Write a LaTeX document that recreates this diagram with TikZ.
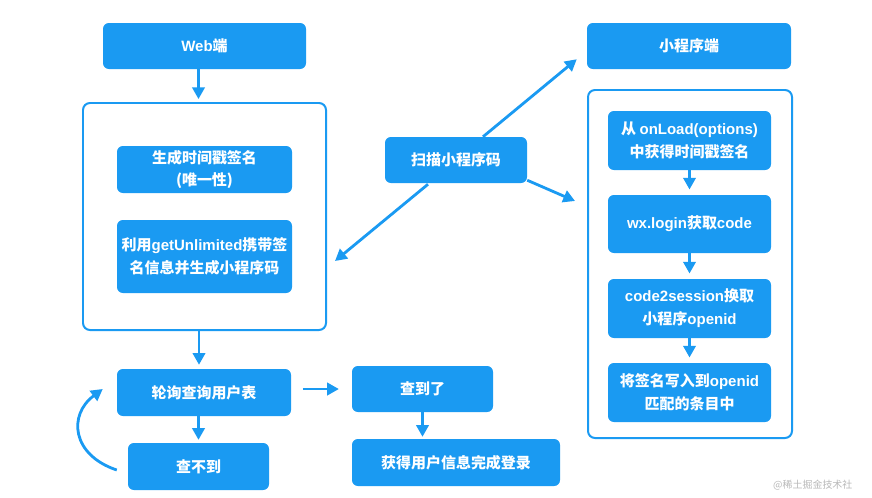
\documentclass[tikz,border=0pt]{standalone}
\usepackage{fontspec}
\setmainfont{Noto Sans CJK SC}
\newfontfamily\latin{Liberation Sans}
\usepackage{xcolor}
\usepackage{tikz}
\usetikzlibrary{arrows.meta}
\definecolor{flowblue}{RGB}{26,154,242}

\begin{document}
\begin{tikzpicture}[x=0.03cm,y=-0.03cm,
  blk/.style={fill=flowblue,rounded corners=5pt,text=white,align=center,inner sep=0pt,
    font=\bfseries\fontsize{12.8}{19.5}\selectfont},
  frame/.style={draw=flowblue,line width=1.7pt,rounded corners=6pt,inner sep=0pt},
  arr/.style={draw=flowblue,line width=2.4pt,-{Triangle[width=10.5pt,length=10pt]}}]
  \def\px{0.03cm}
  \useasboundingbox (0,0) rectangle (872,497);
  % web side
  \node[blk,minimum width=203*\px,minimum height=46*\px] (web) at (204.5,46) {{\latin Web}端};
  \node[frame,minimum width=243*\px,minimum height=227*\px] (webframe) at (204.5,216.5) {};
  \node[blk,minimum width=175*\px,minimum height=47*\px] (sign) at (204.5,169.5) {生成时间戳签名\\(唯一性)};
  \node[blk,minimum width=175*\px,minimum height=73*\px] (qrgen) at (204.5,256.5) {利用{\latin getUnlimited}携带签\\名信息并生成小程序码};
  \node[blk,minimum width=174*\px,minimum height=47*\px] (poll) at (204,392.5) {轮询查询用户表};
  \node[blk,minimum width=141*\px,minimum height=47*\px] (notfound) at (198.5,466.5) {查不到};
  \node[blk,minimum width=141*\px,minimum height=46*\px] (found) at (422.5,389) {查到了};
  \node[blk,minimum width=208*\px,minimum height=47*\px] (login) at (456,462.5) {获得用户信息完成登录};
  \node[blk,minimum width=142*\px,minimum height=46*\px] (scan) at (456,160) {扫描小程序码};
  % mini program side
  \node[blk,minimum width=204*\px,minimum height=46*\px] (mp) at (689,46) {小程序端};
  \node[frame,minimum width=204*\px,minimum height=348*\px] (mpframe) at (690,264) {};
  \node[blk,minimum width=163*\px,minimum height=59*\px] (s1) at (689.5,140.5) {从 {\latin onLoad(options)}\\中获得时间戳签名};
  \node[blk,minimum width=163*\px,minimum height=58*\px] (s2) at (689.5,224) {{\latin wx.login}获取{\latin code}};
  \node[blk,minimum width=163*\px,minimum height=59*\px] (s3) at (689.5,308.5) {{\latin code2session}换取\\小程序{\latin openid}};
  \node[blk,minimum width=163*\px,minimum height=59*\px] (s4) at (689.5,392.5) {将签名写入到{\latin openid}\\匹配的条目中};
  \node[anchor=west,inner sep=0pt,text=black!28,font=\fontsize{8.5}{9}\selectfont] (mark) at (773,485) {@稀土掘金技术社};

  \draw[arr,shorten >=2.5pt] ([shift={(-6,0)}]web.south) -- ([shift={(-6,0)}]webframe.north);
  \draw[arr,shorten >=3.4pt] ([shift={(-5.5,0)}]webframe.south) -- ([shift={(-5,0)}]poll.north);
  \draw[arr,shorten >=2.5pt] (poll.south -| notfound.north) -- (notfound.north);
  \draw[arr] ([shift={(-11,3.5)}]notfound.west) .. controls +(-45,-15) and +(-35,26) .. ([shift={(-14,-3.5)}]poll.west);
  \draw[arr,shorten <=10pt,shorten >=11pt] (poll.east |- found.west) -- (found.west);
  \draw[arr,shorten >=1.7pt] (found.south) -- (found.south |- login.north);
  \draw[arr] ([shift={(27,0)}]scan.north) -- ([shift={(-10,-10)}]mp.south west);
  \draw[arr] ([shift={(-28,1)}]scan.south) -- ([shift={(8,44.5)}]webframe.east);
  \draw[arr] ([shift={(0,-3)}]scan.south east) -- ([shift={(-12,-63)}]mpframe.west);
  \foreach \a/\b in {s1/s2,s2/s3,s3/s4}
    \draw[arr,shorten >=4.5pt] (\a.south) -- (\b.north);
\end{tikzpicture}
\end{document}
